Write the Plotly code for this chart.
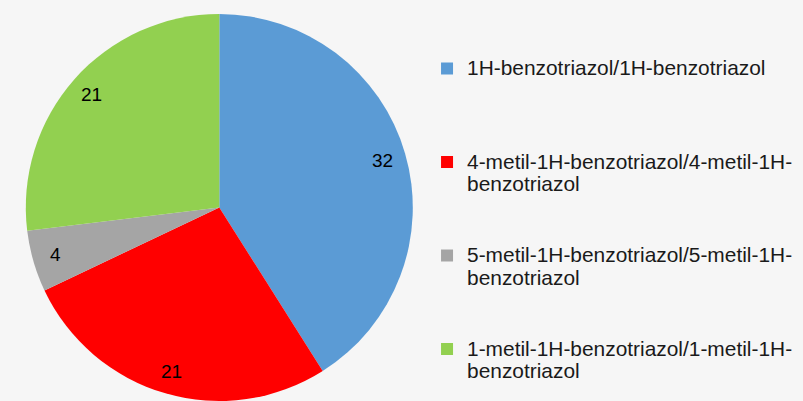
import math
import plotly.graph_objects as go

categories = [
    "1H-benzotriazol/1H-benzotriazol",
    "4-metil-1H-benzotriazol/4-metil-1H-<br>benzotriazol",
    "5-metil-1H-benzotriazol/5-metil-1H-<br>benzotriazol",
    "1-metil-1H-benzotriazol/1-metil-1H-<br>benzotriazol",
]
values = [32, 21, 4, 21]
colors = ["#5B9BD5", "#FF0000", "#A5A5A5", "#92D050"]

W, H = 803, 401
M_T, M_B = 14, 0
DOM_X = [0.0, 0.5462]
LABEL_R = 0.88  # radial position of value labels, fraction of pie radius

# legend entries: each line wrapped in a span; padded to four lines for spacing
legend_labels = []
for i, c in enumerate(categories):
    lines = c.split("<br>")
    lines = ["<span style='font-size:20.9px'>%s</span>" % ln for ln in lines]
    if i < len(categories) - 1:
        lines += [" "] * (4 - len(lines))
    legend_labels.append("<br>".join(lines))

fig = go.Figure(
    go.Pie(
        labels=legend_labels,
        values=values,
        sort=False,
        direction="clockwise",
        rotation=0,
        marker=dict(colors=colors, line=dict(width=0)),
        textinfo="none",
        domain=dict(x=DOM_X, y=[0, 1]),
        hoverinfo="value",
    )
)

# value labels placed near the outer edge of each slice
plot_h = H - M_T - M_B
cx = (DOM_X[0] + DOM_X[1]) / 2 * W
radius = min((DOM_X[1] - DOM_X[0]) * W, plot_h) / 2
cy = M_T + plot_h / 2
total = sum(values)
cum = 0
for v in values:
    theta = math.radians((cum + v / 2) / total * 360)
    cum += v
    px = cx + LABEL_R * radius * math.sin(theta)
    py = cy - LABEL_R * radius * math.cos(theta)
    fig.add_annotation(
        x=px / W,
        y=1 - (py - M_T) / plot_h,
        xref="paper",
        yref="paper",
        xanchor="center",
        yanchor="middle",
        text=str(v),
        showarrow=False,
        font=dict(family="Liberation Sans, Arial, sans-serif", size=19, color="#000000"),
    )

fig.update_layout(
    width=W,
    height=H,
    margin=dict(l=0, r=0, t=M_T, b=M_B),
    paper_bgcolor="#F6F6F6",
    plot_bgcolor="#F6F6F6",
    showlegend=True,
    legend=dict(
        x=0.5318,
        xanchor="left",
        y=0.905,
        yanchor="top",
        valign="top",
        font=dict(family="Liberation Sans, Arial, sans-serif", size=17.4, color="#1A1A1A"),
        bgcolor="rgba(0,0,0,0)",
        traceorder="normal",
    ),
)

fig.write_html(
    "out.html",
    config={"displayModeBar": False},
    post_script="document.body.style.margin='0';document.body.style.overflow='hidden';",
)
